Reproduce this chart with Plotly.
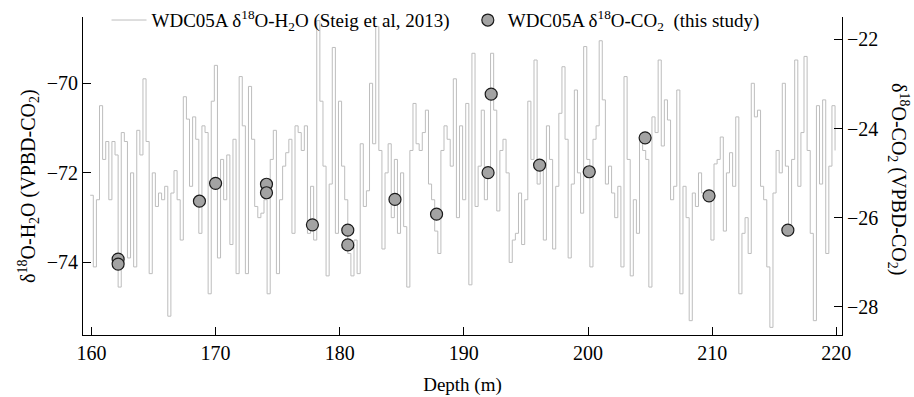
import plotly.graph_objects as go

# ---- WDC05A d18O-H2O record (Steig et al, 2013), 0.25 m samples starting at 159.9 m ----
h2o_start_depth = 159.9
h2o_step = 0.25
h2o_values = [
    -72.5, -74.1, -72.6, -70.5, -71.7, -71.3, -72.6, -71.3, -71.6, -74.55,   # 159.9-
    -71.1, -71.3, -73.9, -72.0, -74.1, -71.05, -71.6, -69.9, -71.3, -74.25,  # 162.4-
    -72.0, -72.75, -72.45, -72.6, -72.3, -75.2, -72.45, -71.95, -72.6, -73.5,  # 164.9-
    -70.3, -70.8, -72.3, -70.75, -71.25, -73.35, -70.95, -71.1, -74.7, -70.4,  # 167.4-
    -69.6, -73.9, -71.7, -72.6, -71.6, -73.6, -71.25, -74.25, -69.85, -70.95,  # 169.9-
    -74.25, -70.07, -71.25, -72.75, -73.0, -72.9, -72.6, -74.7, -71.7, -71.05,  # 172.4-
    -74.25, -72.6, -71.85, -71.55, -71.25, -73.35, -70.95, -71.1, -71.5, -70.95,  # 174.9-
    -73.35, -72.3, -73.5, -68.6, -70.4, -71.85, -74.3, -72.25, -69.2, -73.35,  # 177.4-
    -70.4, -71.85, -72.6, -73.8, -74.3, -73.5, -74.25, -71.35, -72.75, -72.4,  # 179.9-
    -70.0, -71.35, -68.73, -71.5, -73.7, -72.0, -71.35, -73.0, -71.7, -73.35,  # 182.4-
    -72.0, -73.2, -74.55, -71.5, -70.45, -71.35, -71.5, -71.1, -70.6, -72.25,  # 184.9-
    -72.6, -73.3, -73.8, -71.5, -70.95, -71.25, -71.85, -69.9, -73.0, -70.95,  # 187.4-
    -72.6, -70.45, -74.5, -69.33, -72.75, -71.85, -70.6, -72.6, -72.0, -69.33,  # 189.9-
    -70.6, -72.85, -71.5, -71.25, -72.0, -74.0, -73.5, -73.35, -72.45, -73.6,  # 192.4-
    -72.6, -70.4, -71.7, -69.48, -72.25, -71.85, -73.5, -70.95, -71.7, -73.7,  # 194.9-
    -72.3, -70.67, -69.63, -71.25, -73.9, -72.25, -70.15, -72.0, -72.9, -69.18,  # 197.4-
    -71.7, -74.1, -71.25, -70.95, -69.05, -70.37, -72.25, -71.85, -72.45, -73.0,  # 199.9-
    -72.3, -74.1, -69.85, -71.7, -74.3, -72.6, -73.35, -71.25, -71.5, -71.7,  # 202.4-
    -74.55, -70.75, -71.1, -69.48, -71.4, -70.37, -70.82, -72.6, -72.3, -70.15,  # 204.9-
    -74.7, -72.3, -73.0, -75.3, -72.45, -72.75, -72.0, -72.45, -72.6, -72.6,  # 207.4-
    -73.5, -71.8, -71.7, -71.2, -73.3, -72.0, -71.55, -72.3, -70.75, -74.7,  # 209.9-
    -73.35, -73.0, -73.8, -70.0, -70.75, -70.6, -72.3, -72.6, -74.1, -75.45,  # 212.4-
    -72.45, -71.5, -72.0, -70.0, -71.85, -73.3, -71.7, -69.48, -72.3, -71.1,  # 214.9-
    -69.4, -71.5, -73.35, -75.3, -70.5, -72.25, -70.37, -73.8, -71.85, -70.5,  # 217.4-
    -71.5,                                                                     # 219.9
]
h2o_depths = [round(h2o_start_depth + h2o_step * i, 2) for i in range(len(h2o_values))]

# ---- WDC05A d18O-CO2 (this study) ----
co2_depths = [162.15, 162.15, 168.7, 170.0, 174.1, 174.1, 177.8, 180.65, 180.65,
              184.45, 187.8, 191.95, 192.2, 196.1, 200.1, 204.6, 209.75, 216.1]
co2_values = [-26.93, -27.04, -25.63, -25.23, -25.25, -25.44, -26.16, -26.28, -26.61,
              -25.59, -25.92, -24.99, -23.23, -24.82, -24.97, -24.21, -25.51, -26.28]

x_ticks = [160, 170, 180, 190, 200, 210, 220]
y1_ticks = [-74, -72, -70]
y2_ticks = [-28, -26, -24, -22]

FONT = "Liberation Serif, Times New Roman, serif"

fig = go.Figure()
fig.add_trace(go.Scatter(
    x=h2o_depths, y=h2o_values, mode="lines", line_shape="hv",
    line=dict(color="#bdbdbd", width=1),
    name="WDC05A δ<sup>18</sup>O-H<sub>2</sub>O (Steig et al, 2013)",
    legend="legend",
))
fig.add_trace(go.Scatter(
    x=co2_depths, y=co2_values, mode="markers", yaxis="y2",
    marker=dict(size=12, color="#a3a3a3", line=dict(color="#1a1a1a", width=1.2)),
    name="WDC05A δ<sup>18</sup>O-CO<sub>2</sub>  (this study)",
    legend="legend2",
))

axis_common = dict(showline=True, linecolor="black", linewidth=1, ticks="inside",
                   ticklen=8, tickcolor="black", showgrid=False, zeroline=False,
                   tickfont=dict(family=FONT, size=20, color="black"))

legend_common = dict(orientation="h", y=0.99, xanchor="left", yanchor="middle",
                     bgcolor="rgba(0,0,0,0)", borderwidth=0,
                     font=dict(family=FONT, size=19, color="black"))

fig.update_layout(
    width=914, height=397,
    margin=dict(l=83, r=72, t=17, b=62, autoexpand=False),
    paper_bgcolor="white", plot_bgcolor="white",
    font=dict(family=FONT, size=20, color="black"),
    showlegend=True,
    legend=dict(x=0.031, itemwidth=35, **legend_common),
    legend2=dict(x=0.507, itemwidth=30, **legend_common),
    xaxis=dict(range=[159.32, 220.46], tickvals=x_ticks, **axis_common,
               title=dict(text="Depth (m)", font=dict(family=FONT, size=19), standoff=14)),
    yaxis=dict(range=[-75.62, -68.52], tickvals=y1_ticks, **axis_common),
    yaxis2=dict(range=[-28.63, -21.5], tickvals=y2_ticks, overlaying="y", side="right",
                **axis_common),
)

fig.add_annotation(text="δ<sup>18</sup>O-H<sub>2</sub>O (VPBD-CO<sub>2</sub>)",
                   xref="paper", yref="paper", x=-0.072, y=0.47, textangle=-90,
                   showarrow=False, font=dict(family=FONT, size=20),
                   xanchor="center", yanchor="middle")
fig.add_annotation(text="δ<sup>18</sup>O-CO<sub>2</sub> (VPBD-CO<sub>2</sub>)",
                   xref="paper", yref="paper", x=1.074, y=0.49, textangle=90,
                   showarrow=False, font=dict(family=FONT, size=20),
                   xanchor="center", yanchor="middle")

fig.write_html("out.html")
